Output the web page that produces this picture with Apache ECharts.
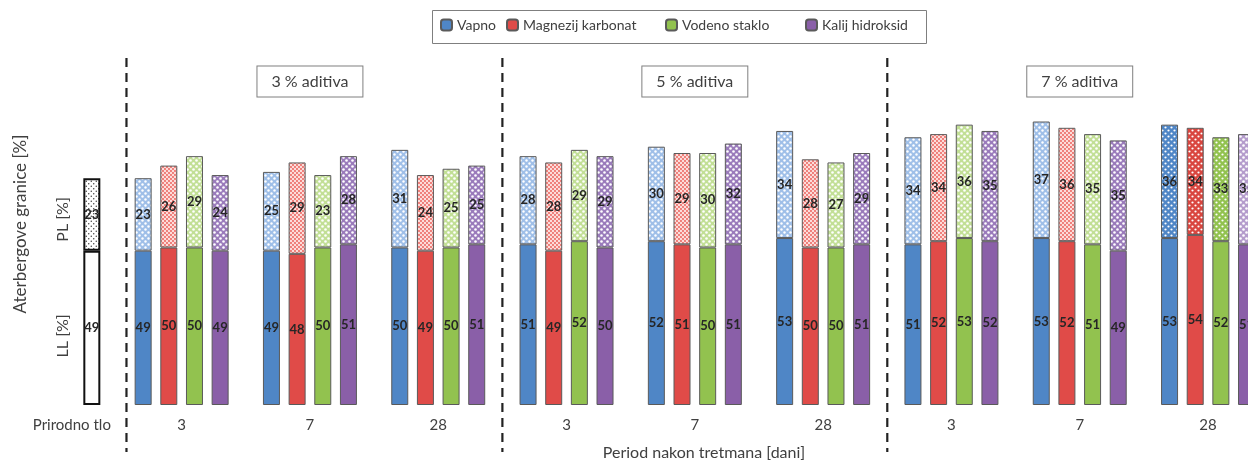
<!DOCTYPE html>
<html><head><meta charset="utf-8">
<script src="https://cdn.jsdelivr.net/npm/echarts@6/dist/echarts.min.js"></script>
<style>html,body{margin:0;padding:0;background:#fff}#c{width:1248px;height:462px}</style>
</head><body><div id="c"></div><script>
// ---------------- data ----------------
const additives = ['Vapno', 'Magnezij karbonat', 'Vodeno staklo', 'Kalij hidroksid'];
const sections = ['3 % aditiva', '5 % aditiva', '7 % aditiva'];
const periods = ['3', '7', '28'];
const naturalLabel = 'Prirodno tlo';
const naturalLL = 49;
const naturalPL = 23;
// groups in order: 3% (3,7,28 days), 5% (3,7,28), 7% (3,7,28)
const llVapno     = [49, 49, 50, 51, 52, 53, 51, 53, 53];
const llMagnezij  = [50, 48, 49, 49, 51, 50, 52, 52, 54];
const llVodeno    = [50, 50, 50, 52, 50, 50, 53, 51, 52];
const llKalij     = [49, 51, 51, 50, 51, 51, 52, 49, 51];
const plVapno     = [23, 25, 31, 28, 30, 34, 34, 37, 36];
const plMagnezij  = [26, 29, 24, 28, 29, 28, 34, 36, 34];
const plVodeno    = [29, 23, 25, 29, 30, 27, 36, 35, 33];
const plKalij     = [24, 28, 25, 29, 32, 29, 35, 35, 35];
const xAxisTitle = 'Period nakon tretmana [dani]';
const yAxisTitle = 'Aterbergove granice [%]';
const plTitle = 'PL [%]';
const llTitle = 'LL [%]';

// ---------------- layout helpers ----------------
const llSets = [llVapno, llMagnezij, llVodeno, llKalij];
const plSets = [plVapno, plMagnezij, plVodeno, plKalij];
const nGroups = sections.length * periods.length;
const firstSlot = 2;
const groupStride = additives.length + 1;
const nSlots = firstSlot + nGroups * groupStride - 1;
const slotW = 25.66;
const gridLeft = 79;
const categories = Array.from({length: nSlots}, (_, i) => String(i));
const slotOf = (g, a) => firstSlot + g * groupStride + a;

const baseColors = ['#4f86c6', '#e04b48', '#92c24f', '#8a5fa8'];
const FONT = 'Lato';

function makePattern(bg, dot, size, r, offset) {
  const c = document.createElement('canvas');
  c.width = size; c.height = size;
  const ctx = c.getContext('2d');
  ctx.fillStyle = bg; ctx.fillRect(0, 0, size, size);
  ctx.fillStyle = dot;
  const pts = offset ? [[size / 4, size / 4], [3 * size / 4, 3 * size / 4]] : [[size / 2, size / 2]];
  pts.forEach(p => { ctx.beginPath(); ctx.arc(p[0], p[1], r, 0, Math.PI * 2); ctx.fill(); });
  return {image: c, repeat: 'repeat'};
}
const lightPatterns = [
  makePattern('#9fbfe8', '#ffffff', 6, 1.2, true),
  makePattern('#fcdcda', '#e9554f', 4, 0.9, true),
  makePattern('#c2df96', '#ffffff', 6, 1.3, true),
  makePattern('#9a7bbb', '#ffffff', 6, 1.3, true)
];
const darkPatterns = [
  makePattern('#4f86c6', '#ffffff', 6, 1.1, true),
  makePattern('#d9463f', '#ffffff', 6, 1.1, true),
  makePattern('#92c24f', '#ffffff', 6, 1.1, true),
  makePattern('#b49ccc', '#ffffff', 6, 1.3, true)
];
const darkGroup = nGroups - 1;
const naturalPattern = makePattern('#ffffff', '#333333', 5, 0.7, true);

const labelStyle = {show: true, position: 'inside', color: '#262626', fontSize: 13, fontWeight: 'bold', fontFamily: FONT};
const border = {borderColor: '#5a5a5a', borderWidth: 1};

function emptyArr() { return new Array(nSlots).fill(null); }

const series = [];
(function () {
  const d = emptyArr(); d[0] = naturalLL;
  series.push({name: naturalLabel + ' LL', type: 'bar', stack: 'all', barWidth: 17, data: d,
    itemStyle: {color: '#ffffff', borderColor: '#111', borderWidth: 2}, label: labelStyle});
})();
additives.forEach((name, a) => {
  const d = emptyArr();
  llSets[a].forEach((v, g) => { d[slotOf(g, a)] = v; });
  series.push({name, type: 'bar', stack: 'all', barWidth: 15, data: d,
    itemStyle: Object.assign({color: baseColors[a]}, border), label: labelStyle});
});
(function () {
  const d = emptyArr(); d[0] = naturalPL;
  series.push({name: naturalLabel + ' PL', type: 'bar', stack: 'all', barWidth: 17, data: d,
    itemStyle: {color: naturalPattern, borderColor: '#111', borderWidth: 2}, label: labelStyle});
})();
additives.forEach((name, a) => {
  const d = emptyArr();
  plSets[a].forEach((v, g) => {
    d[slotOf(g, a)] = g === darkGroup ? {value: v, itemStyle: {color: darkPatterns[a]}} : v;
  });
  series.push({name, type: 'bar', stack: 'all', barWidth: 15, data: d,
    itemStyle: Object.assign({color: lightPatterns[a]}, border), label: labelStyle});
});

// one legend per additive so the columns sit like the original's
const legendLefts = [440, 506, 665, 805];
const legends = additives.map((n, i) => ({
  data: [n], left: legendLefts[i], top: 18, padding: 0, itemWidth: 11, itemHeight: 11,
  textStyle: {fontSize: 14, color: '#404040', fontFamily: FONT}
}));

const chart = echarts.init(document.getElementById('c'), null, {renderer: 'canvas'});
chart.setOption({
  animation: false,
  backgroundColor: '#ffffff',
  textStyle: {fontFamily: FONT},
  legend: legends,
  grid: {left: gridLeft, top: 121.5, width: nSlots * slotW, bottom: 57, containLabel: false, outerBoundsMode: 'none'},
  xAxis: [{
    type: 'category', data: categories, position: 'bottom',
    axisLine: {show: false}, axisTick: {show: false},
    axisLabel: {
      interval: 0, margin: 13, color: '#404040', fontSize: 15, fontFamily: FONT,
      formatter: function (v, i) {
        if (i === 0) return '{n|' + naturalLabel + '}';
        const k = i - firstSlot - 1;
        if (k >= 0 && k % groupStride === 0) {
          const g = k / groupStride;
          if (g < nGroups) return '{g|' + periods[g % periods.length] + '}';
        }
        return '';
      },
      rich: {
        n: {padding: [0, 40, 0, 0], fontSize: 15, color: '#404040', fontFamily: FONT},
        g: {padding: [0, 0, 0, slotW], fontSize: 15, color: '#404040', fontFamily: FONT}
      }
    }
  }, {
    type: 'value', position: 'top', min: 0, max: nSlots, interval: 1,
    axisLine: {show: false}, axisTick: {show: false}, splitLine: {show: false},
    axisLabel: {
      margin: 25, showMinLabel: true, showMaxLabel: true,
      formatter: function (v) {
        const span = periods.length * groupStride;
        const k = v - firstSlot - (span - 1) / 2;
        if (k >= 0 && Math.abs(k % span) < 1e-6) {
          const s = Math.round(k / span);
          if (s < sections.length) return '{b|' + sections[s] + '}';
        }
        return '';
      },
      rich: {
        b: {fontSize: 16, color: '#404040', fontFamily: FONT, padding: [7, 14, 7, 14],
            borderColor: '#7f7f7f', borderWidth: 1, backgroundColor: '#fff'}
      }
    }
  }],
  yAxis: {type: 'value', min: 0, max: 90, show: false},
  series
});

const dividerSlots = [1.85, 16.5, 31.5];
const graphics = dividerSlots.map(s => {
  const x = chart.convertToPixel({xAxisIndex: 1}, s);
  return {type: 'line', shape: {x1: x, y1: 58, x2: x, y2: 452}, silent: true,
    style: {stroke: '#222', lineWidth: 2.2, lineDash: [9, 6]}};
});
// legend frame
graphics.push({type: 'rect', shape: {x: 432.5, y: 10.5, width: 494, height: 33}, silent: true, z: -1,
  style: {fill: '#fff', stroke: '#7f7f7f', lineWidth: 1}});
const txt = (text, x, y, rot, size) => ({type: 'text', x, y, rotation: rot, silent: true,
  style: {text, fill: '#404040', font: size + 'px ' + FONT, align: 'center', verticalAlign: 'middle'}});
const ll0 = chart.convertToPixel({yAxisIndex: 0}, naturalLL / 2);
const pl0 = chart.convertToPixel({yAxisIndex: 0}, naturalLL + naturalPL / 2);
graphics.push(txt(yAxisTitle, 21, 224, Math.PI / 2, 17));
graphics.push(txt(plTitle, 63, pl0 + 5, Math.PI / 2, 16));
graphics.push(txt(llTitle, 63, ll0 + 8, Math.PI / 2, 16));
graphics.push(txt(xAxisTitle, 704, 453, 0, 16));
chart.setOption({graphic: graphics});
</script></body></html>
